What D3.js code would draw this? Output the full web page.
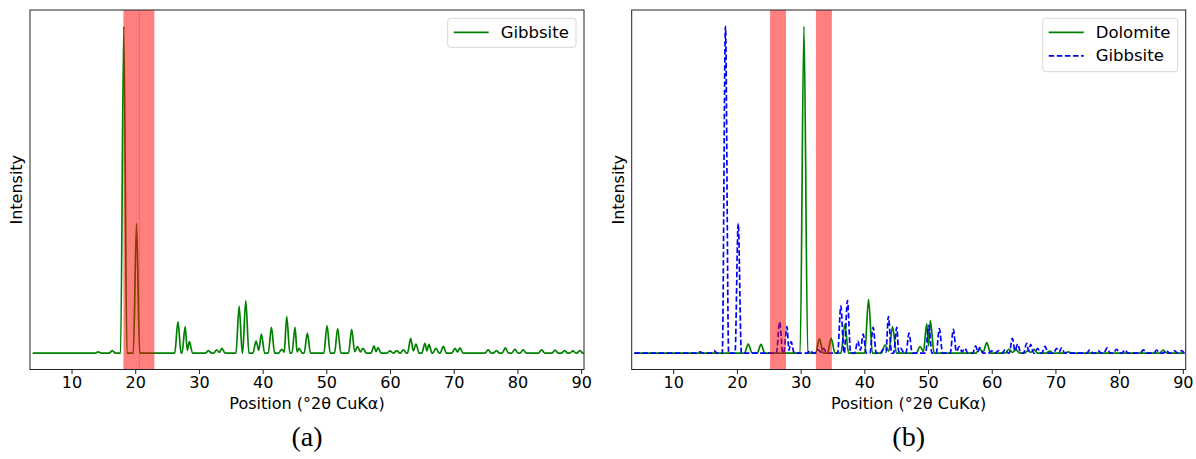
<!DOCTYPE html>
<html><head><meta charset="utf-8">
<script src="https://cdn.jsdelivr.net/npm/d3@7"></script>
<style>
body{margin:0;background:#fff;}
svg{display:block;font-family:"DejaVu Sans",sans-serif;}
</style></head>
<body><svg id="c" width="1196" height="459"></svg>
<script>
// ---- data ----
const xTicks = [10,20,30,40,50,60,70,80,90];
const xRange = [3.9, 90.1];
// Gibbsite peaks: [position °2θ, normalized intensity]
const gibbsitePeaks = [
 [14.2,0.004],[16.4,0.008],[18.2,1.0],[20.2,0.397],[26.7,0.096],[27.84,0.081],[28.5,0.035],
 [31.5,0.008],[32.8,0.01],[33.6,0.015],[36.31,0.144],[37.35,0.161],[38.97,0.037],[39.81,0.058],
 [41.38,0.079],[43.0,0.012],[43.78,0.112],[45.09,0.079],[45.72,0.015],[47.02,0.061],
 [50.11,0.084],[51.78,0.075],[53.98,0.073],[54.9,0.02],[55.77,0.015],[57.5,0.022],[58.1,0.017],
 [60.0,0.007],[61.05,0.008],[62.1,0.01],[63.24,0.045],[64.07,0.028],[65.48,0.03],[66.1,0.027],
 [67.2,0.015],[68.36,0.021],[70.2,0.015],[70.97,0.016],[75.4,0.01],[76.7,0.008],[78.1,0.016],
 [79.6,0.012],[80.9,0.01],[83.8,0.01],[85.9,0.009],[87.4,0.008],[88.7,0.007],[89.8,0.008]
];
// Dolomite peaks
const dolomitePeaks = [
 [21.78,0.028],[23.78,0.027],[30.52,1.0],[32.95,0.044],[34.8,0.045],[36.93,0.088],[40.66,0.165],
 [43.25,0.025],[44.44,0.081],[48.75,0.02],[49.8,0.09],[50.36,0.1],[58.1,0.013],[59.22,0.032],
 [62.7,0.012],[63.8,0.01],[65.7,0.008],[66.6,0.012],[69.1,0.006],[72.0,0.004],[86.9,0.009]
];
const spansA = [[18.15,20.65],[20.58,23.0]];
const spansB = [[25.2,27.7],[32.4,34.9]];
const xLabel = "Position (°2θ CuKα)";
const yLabel = "Intensity";

// ---- drawing ----
const svg = d3.select("#c");
const axTop = 10, axBottom = 369.5;
const xDomain = [3.48, 90.45];
const yDomain = [-0.05, 1.05];

function vertices(peaks, hw){
  const s = peaks.slice().sort((a,b)=>a[0]-b[0]);
  const pts = [[xRange[0],0]];
  for(let i=0;i<s.length;i++){
    const [p,h] = s[i];
    const prev = s[i-1], next = s[i+1];
    if(!prev || p - prev[0] >= 2*hw) pts.push([p-hw,0]);
    pts.push([p,h]);
    if(next && next[0]-p < 2*hw){
      pts.push([(p+next[0])/2, Math.min(h,next[1])*0.25]);
    } else pts.push([p+hw,0]);
  }
  pts.push([xRange[1],0]);
  return pts;
}

function panel(x0,x1,series,spans,legendBox,caption){
  const g = svg.append("g");
  const x = d3.scaleLinear().domain(xDomain).range([x0,x1]);
  const y = d3.scaleLinear().domain(yDomain).range([axBottom,axTop]);
  const line = d3.line().x(d=>x(d[0])).y(d=>y(d[1])).curve(d3.curveMonotoneX);
  const clipId = "clip"+Math.round(x0);
  svg.append("clipPath").attr("id",clipId).append("rect")
    .attr("x",x0).attr("y",axTop).attr("width",x1-x0).attr("height",axBottom-axTop);
  const pg = g.append("g").attr("clip-path",`url(#${clipId})`);
  series.forEach(s=>{
    pg.append("path").attr("d",line(vertices(s.peaks,s.hw)))
      .attr("fill","none").attr("stroke",s.color).attr("stroke-width",1.7)
      .attr("stroke-dasharray",s.dash||null).attr("stroke-linejoin","round");
  });
  spans.forEach(sp=>{
    pg.append("rect").attr("x",x(sp[0])).attr("width",x(sp[1])-x(sp[0]))
      .attr("y",axTop).attr("height",axBottom-axTop).attr("fill","red").attr("opacity",0.5);
  });
  g.append("rect").attr("x",x0).attr("y",axTop).attr("width",x1-x0).attr("height",axBottom-axTop)
    .attr("fill","none").attr("stroke","#222").attr("stroke-width",1);
  const ax = g.append("g").attr("transform",`translate(0,${axBottom})`)
    .call(d3.axisBottom(x).tickValues(xTicks).tickSize(4.5).tickPadding(3).tickFormat(d3.format("d")));
  ax.select(".domain").remove();
  ax.selectAll("text").attr("font-size",16).attr("font-family","DejaVu Sans").attr("fill","#000");
  ax.selectAll("line").attr("stroke","#222");
  g.append("text").attr("x",(x0+x1)/2).attr("y",404).attr("text-anchor","middle")
    .attr("dominant-baseline","middle").attr("font-size",16).text(xLabel);
  g.append("text").attr("transform",`translate(${x0-12.5},${(axTop+axBottom)/2}) rotate(-90)`)
    .attr("text-anchor","middle").attr("dominant-baseline","middle").attr("font-size",16).text(yLabel);
  const lb = legendBox;
  g.append("rect").attr("x",lb.x).attr("y",lb.y).attr("width",lb.w).attr("height",lb.h)
    .attr("rx",3).attr("fill","#fff").attr("fill-opacity",0.8).attr("stroke","#d6d6d6");
  series.forEach((s,i)=>{
    const ly = lb.y + 14 + i*23.5;
    g.append("line").attr("x1",lb.x+6).attr("x2",lb.x+41).attr("y1",ly).attr("y2",ly)
      .attr("stroke",s.color).attr("stroke-width",1.7).attr("stroke-dasharray",s.dash||null);
    g.append("text").attr("x",lb.x+53).attr("y",ly).attr("dominant-baseline","central")
      .attr("font-size",16.5).text(s.name);
  });
  svg.append("text").attr("x",(x0+x1)/2).attr("y",440).attr("text-anchor","middle")
    .attr("dominant-baseline","middle").attr("font-family","'Liberation Serif',serif")
    .attr("font-size",28).text(caption);
}

panel(30,584,[{name:"Gibbsite",peaks:gibbsitePeaks,color:"#008000",hw:0.5}],spansA,
  {x:447.7,y:18.3,w:128.3,h:29},"(a)");
panel(631.7,1185.7,[
  {name:"Dolomite",peaks:dolomitePeaks,color:"#008000",hw:0.6},
  {name:"Gibbsite",peaks:gibbsitePeaks,color:"#0000ff",hw:0.5,dash:"5.5,2.6"}],spansB,
  {x:1042.7,y:18.3,w:135,h:53.4},"(b)");
</script></body></html>
